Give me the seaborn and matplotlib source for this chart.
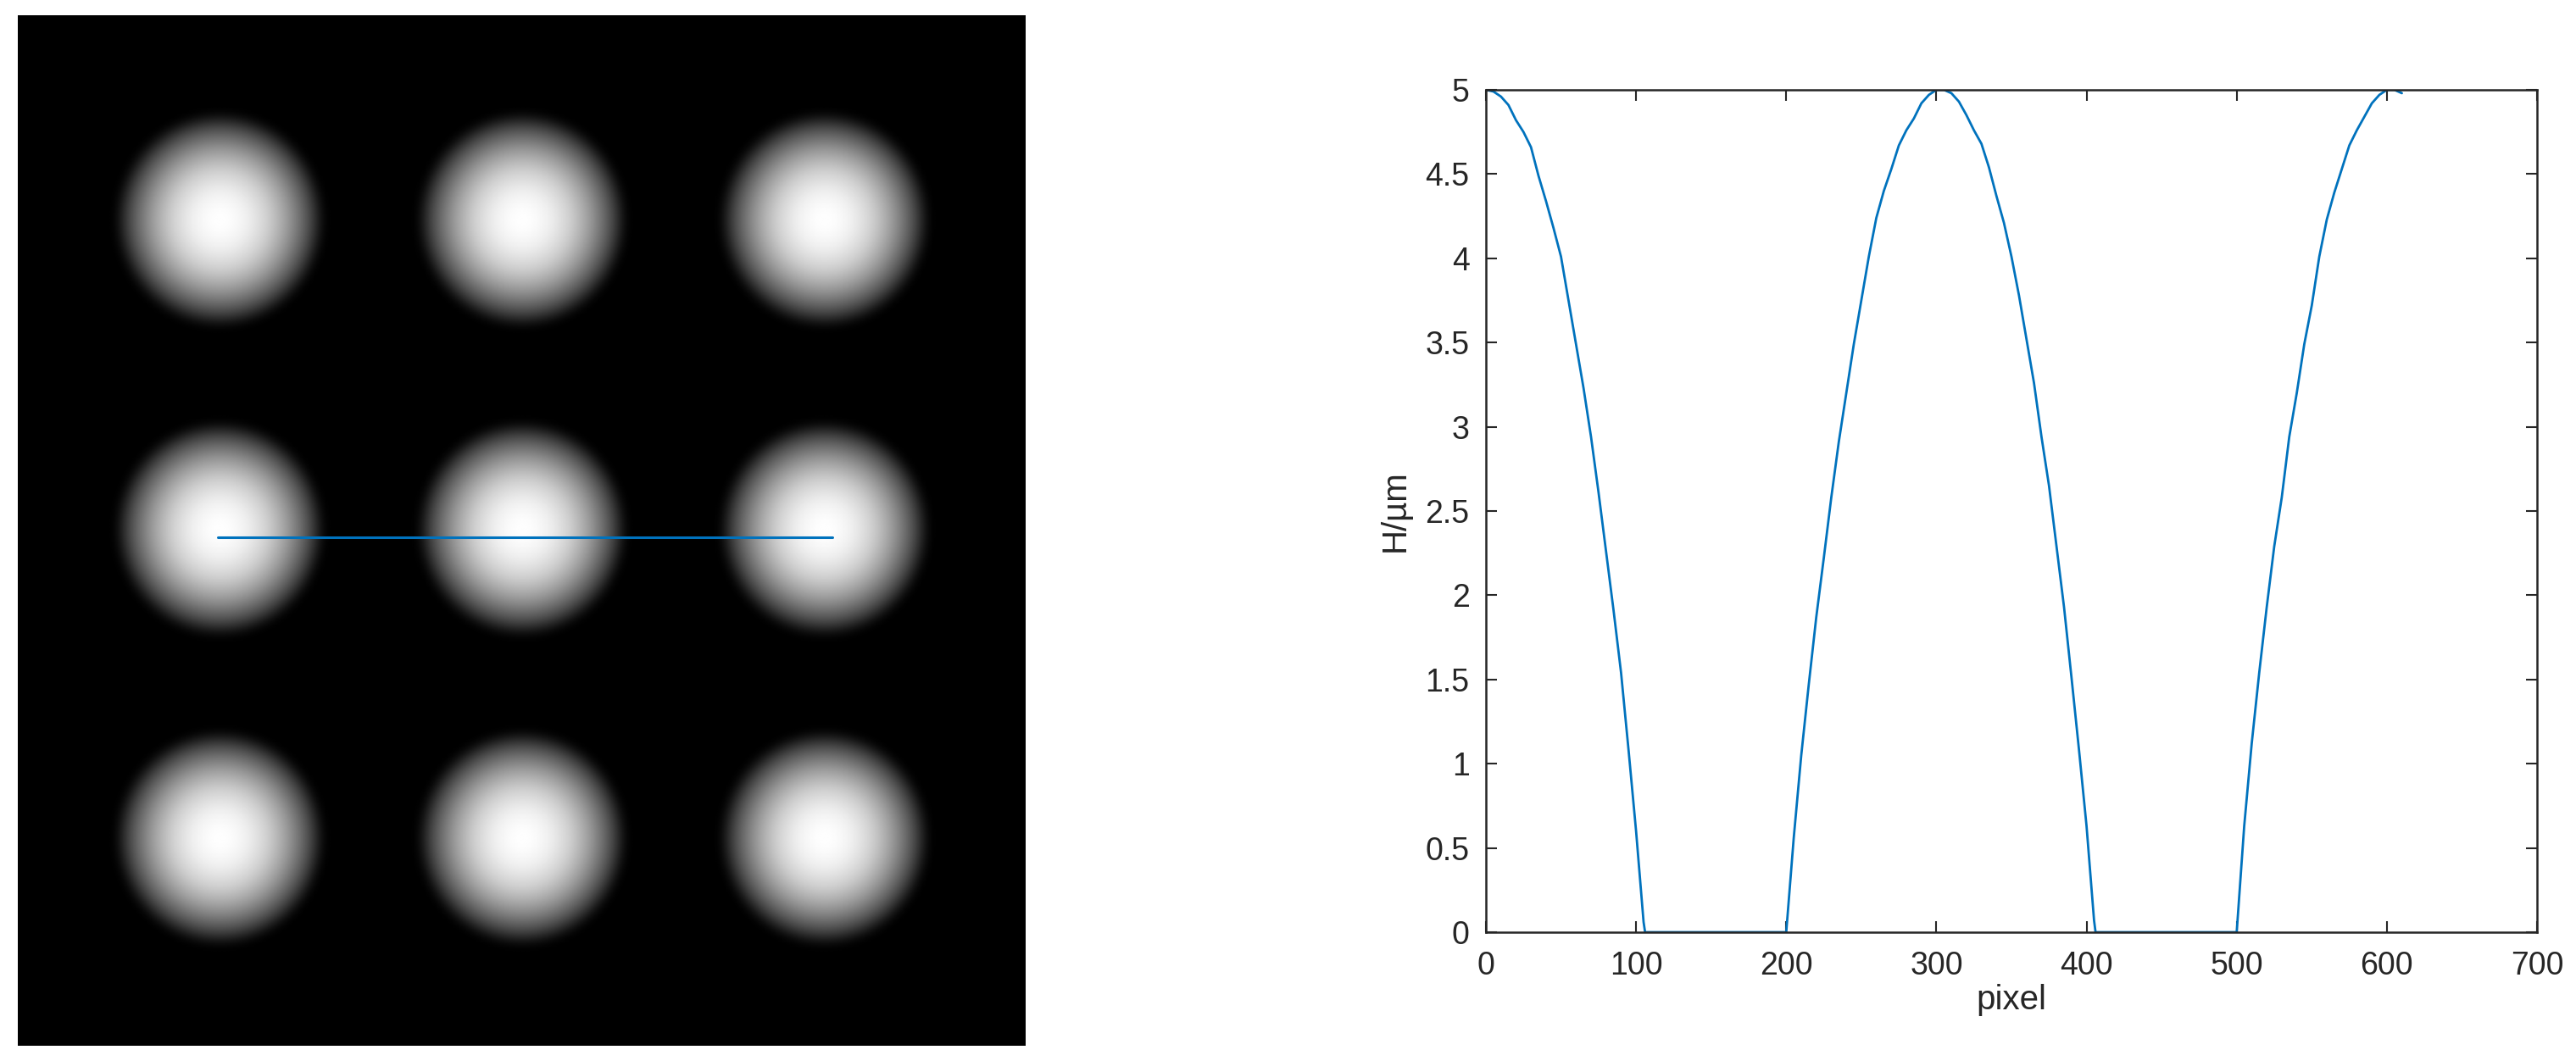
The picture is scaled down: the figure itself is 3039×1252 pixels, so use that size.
import numpy as np
import matplotlib.pyplot as plt
import seaborn as sns
from matplotlib.ticker import FormatStrFormatter

sns.set_style("ticks")
plt.rcParams["font.family"] = ["Liberation Sans", "DejaVu Sans"]

# Height profile along the line (pixel index -> height in um)
pixel = [0, 5, 10, 15, 20, 25, 30, 35, 40, 45, 50, 55, 60, 65, 70, 75, 80, 85, 90, 95, 100, 105, 106,
         200, 205, 210, 215, 220, 225, 230, 235, 240, 245, 250, 255, 260, 265, 270, 275, 280, 285, 290, 295, 300,
         305, 310, 315, 320, 325, 330, 335, 340, 345, 350, 355, 360, 365, 370, 375, 380, 385, 390, 395, 400, 405, 406,
         500, 505, 510, 515, 520, 525, 530, 535, 540, 545, 550, 555, 560, 565, 570, 575, 580, 585, 590, 595, 600, 605, 610]
height = [5.00, 4.99, 4.96, 4.91, 4.82, 4.75, 4.66, 4.49, 4.34, 4.18, 4.01, 3.75, 3.49, 3.23, 2.94, 2.61, 2.26, 1.91, 1.54, 1.08, 0.60, 0.06, 0.00,
          0.00, 0.56, 1.05, 1.47, 1.87, 2.22, 2.58, 2.91, 3.20, 3.49, 3.75, 4.01, 4.24, 4.40, 4.53, 4.67, 4.76, 4.83, 4.92, 4.97, 5.00,
          5.00, 4.98, 4.93, 4.85, 4.76, 4.68, 4.54, 4.37, 4.21, 4.01, 3.78, 3.52, 3.26, 2.94, 2.65, 2.29, 1.93, 1.51, 1.08, 0.63, 0.07, 0.00,
          0.00, 0.63, 1.12, 1.54, 1.93, 2.29, 2.58, 2.94, 3.20, 3.49, 3.72, 4.01, 4.23, 4.39, 4.53, 4.67, 4.76, 4.84, 4.92, 4.97, 5.00, 5.00, 4.98]

# Dome layout in the height map (1000 x 1000 px)
img_size = 1000
blob_cols = [200, 500, 800]
blob_rows = [198, 498, 798]
blob_radius = 104  # dome radius in the map
edge_blur = 5      # soft fall-off at the dome rim (px)
radial_pixel = np.array(pixel[:23]) / 106 * blob_radius
radial_height = height[:23]

# Line where the profile was taken
line_x = [198, 808]
line_y = [506, 506]

blue = "#0072BD"
dark = "#262626"

fig = plt.figure(figsize=(30.39, 12.52), dpi=100)
ax_img = fig.add_axes([21 / 3039, 18 / 1252, 1189 / 3039, 1216 / 1252])
ax = fig.add_axes([1753 / 3039, 152 / 1252, 1240 / 3039, 994 / 1252])

# Left: height map of the 3x3 domes
yy, xx = np.mgrid[0:img_size, 0:img_size]
hmap = np.zeros((img_size, img_size))
for cy in blob_rows:
    for cx in blob_cols:
        r = np.hypot(xx - cx, yy - cy)
        hmap = np.maximum(hmap, np.interp(r, radial_pixel, radial_height, right=0))

# light smoothing so the rims fade like the reference
k = np.exp(-0.5 * (np.arange(-3 * edge_blur, 3 * edge_blur + 1) / edge_blur) ** 2)
k /= k.sum()
hmap = np.apply_along_axis(lambda v: np.convolve(v, k, mode="same"), 0, hmap)
hmap = np.apply_along_axis(lambda v: np.convolve(v, k, mode="same"), 1, hmap)

ax_img.imshow(hmap, cmap="gray", vmin=0, vmax=5, aspect="auto", interpolation="bilinear")
ax_img.plot(line_x, line_y, color=blue, linewidth=2.2)
ax_img.set_xlim(-0.5, img_size - 0.5)
ax_img.set_ylim(img_size - 0.5, -0.5)
ax_img.set_axis_off()

# Right: profile
sns.lineplot(x=pixel, y=height, ax=ax, color=blue, linewidth=2)
ax.set_xlim(0, 700)
ax.set_ylim(0, 5)
ax.set_xticks(np.arange(0, 701, 100))
ax.set_yticks(np.arange(0, 5.01, 0.5))
ax.yaxis.set_major_formatter(FormatStrFormatter("%g"))
ax.tick_params(axis="both", direction="in", length=9.5, width=1.5, colors=dark,
               top=True, right=True, labelsize=27)
ax.tick_params(axis="x", pad=16)
ax.tick_params(axis="y", pad=14)
for s in ax.spines.values():
    s.set_visible(True)
    s.set_linewidth(1.8)
    s.set_color(dark)
ax.set_xlabel("pixel", fontsize=29, color=dark, labelpad=2)
ax.set_ylabel("H/\u00b5m", fontsize=29, color=dark, labelpad=12)

fig.savefig("out.png", dpi=100)
